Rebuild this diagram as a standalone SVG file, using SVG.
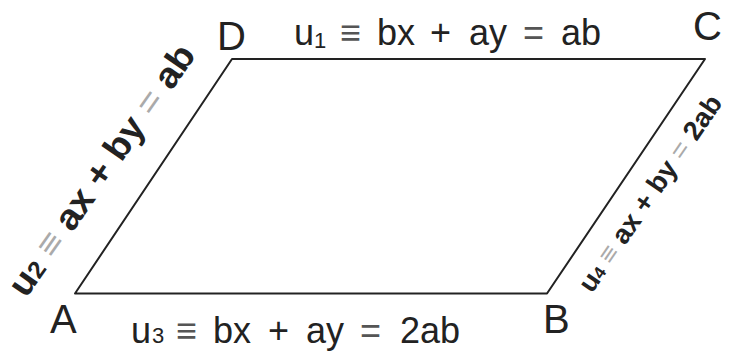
<svg xmlns="http://www.w3.org/2000/svg" width="732" height="354" viewBox="0 0 732 354">
<style>
.v{font-family:"Liberation Sans",Arial,sans-serif;font-size:40px;fill:#222}
.lb{font-family:"Liberation Sans",Arial,sans-serif;font-size:36px;fill:#222}
.sub{font-size:22px}
.eq{fill:#555}
.rl{font-family:"Liberation Sans",Arial,sans-serif;font-weight:bold;fill:#222}
.faint{fill:#aaa;font-weight:normal}
.edge{fill:none;stroke:#222;stroke-width:2;stroke-linejoin:round}
</style>
<rect width="732" height="354" fill="#fff"/>
<g id="connectors">
<path class="edge" d="M75,293.5 L232,59 L705,59 L547,293.5 Z"/>
</g>
<g id="A"><text class="v" x="50" y="333">A</text></g>
<g id="B"><text class="v" x="543" y="333">B</text></g>
<g id="C"><text class="v" x="693" y="40">C</text></g>
<g id="D"><text class="v" x="217" y="50">D</text></g>
<g id="u1">
<text class="lb" y="45"><tspan x="294">u</tspan><tspan class="sub" x="314" dy="3">1</tspan><tspan class="eq" x="340" dy="-3">≡</tspan><tspan x="377">bx</tspan><tspan x="430">+</tspan><tspan x="469">ay</tspan><tspan class="eq" x="523">=</tspan><tspan x="561">ab</tspan></text>
</g>
<g id="u3">
<text class="lb" y="343"><tspan x="131">u</tspan><tspan class="sub" x="152">3</tspan><tspan class="eq" x="176">≡</tspan><tspan x="213">bx</tspan><tspan x="268">+</tspan><tspan x="306">ay</tspan><tspan class="eq" x="360">=</tspan><tspan x="400">2ab</tspan></text>
</g>
<g id="u2">
<text class="rl" font-size="36" transform="translate(26,299) rotate(-55)" textLength="298" lengthAdjust="spacingAndGlyphs">u<tspan font-size="24">2</tspan><tspan class="faint"> ≡ </tspan>ax + by<tspan class="faint"> = </tspan>ab</text>
</g>
<g id="u4">
<text class="rl" font-size="27" transform="translate(592,294) rotate(-55.5)" textLength="232" lengthAdjust="spacingAndGlyphs">u<tspan font-size="17">4</tspan><tspan class="faint"> ≡ </tspan>ax + by<tspan class="faint"> = </tspan>2ab</text>
</g>
</svg>
